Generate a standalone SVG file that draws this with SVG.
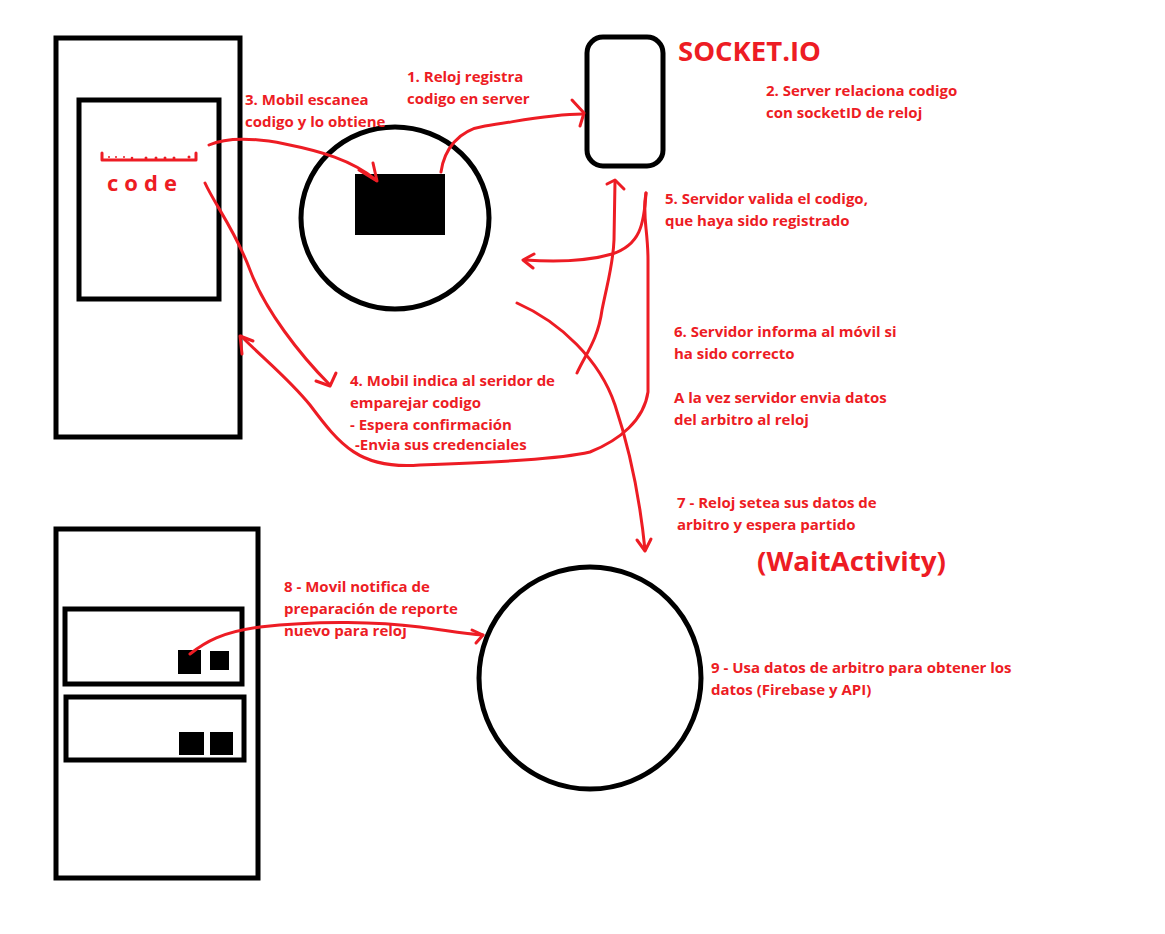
<svg xmlns="http://www.w3.org/2000/svg" width="1165" height="934" viewBox="0 0 1165 934">
<style>
.box{fill:none;stroke:#000;stroke-width:5}
.fill{fill:#000}
.t{font-family:"Open Sans",Lato,sans-serif;font-weight:700;font-size:15px;fill:#ed1c24}
.big{font-family:"Open Sans",Lato,sans-serif;font-weight:700;font-size:27px;fill:#ed1c24}
.c{fill:none;stroke:#ed1c24;stroke-width:3;stroke-linecap:round;stroke-linejoin:round}
</style>
<rect width="1165" height="934" fill="#fff"/>
<g id="phone-top">
<rect class="box" x="56" y="38" width="184" height="399"/>
<rect class="box" x="79" y="100" width="140" height="199" stroke-width="4"/>
<path class="c" d="M102,153 L102,160 L196,160 L196,153" stroke-width="2.5"/>
<g fill="#ed1c24"><circle cx="109" cy="157" r="1"/><circle cx="116" cy="157" r="1"/><circle cx="124" cy="157" r="1"/><circle cx="132" cy="158" r="1.3"/><circle cx="146" cy="158" r="1.5"/><circle cx="156" cy="158" r="1.5"/><circle cx="165" cy="158" r="1.5"/><circle cx="174" cy="158" r="1.5"/><circle cx="189" cy="157" r="1.5"/></g>
<text class="t" x="107" y="191" textLength="70" lengthAdjust="spacing" style="font-size:22px">code</text>
</g>
<g id="watch-top">
<ellipse class="box" cx="395" cy="218" rx="94" ry="91"/>
<rect class="fill" x="355" y="174" width="90" height="61"/>
</g>
<g id="server">
<rect class="box" x="587" y="37" width="76" height="129" rx="16" stroke-width="4"/>
</g>
<g id="phone-bottom">
<rect class="box" x="56" y="529" width="202" height="349"/>
<rect class="box" x="65" y="609" width="177" height="75"/>
<rect class="box" x="66" y="697" width="178" height="63"/>
<rect class="fill" x="178" y="650" width="23" height="24"/>
<rect class="fill" x="210" y="651" width="19" height="19"/>
<rect class="fill" x="179" y="732" width="25" height="23"/>
<rect class="fill" x="210" y="732" width="23" height="23"/>
</g>
<g id="watch-bottom">
<circle class="box" cx="590" cy="678" r="111"/>
</g>
<g id="connectors">
<path class="c" d="M441,172 C444,150 458,130 485,126 C520,121 550,114 583,114"/>
<path class="c" d="M572,100 L584,113 L580,126"/>
<path class="c" d="M209,145 C225,138 250,137 285,144 C320,151 352,160 376,180"/>
<path class="c" d="M359,170 L377,181 L373,163"/>
<path class="c" d="M205,183 C215,205 235,230 250,270 C265,310 300,355 330,385"/>
<path class="c" d="M316,381 L330,386 L336,373"/>
<path class="c" d="M646,193 C642,215 648,230 648,260 L648,392 C644,420 620,440 590,452 C560,459 500,462 420,465 C360,470 340,445 310,405 C290,380 265,360 241,336"/>
<path class="c" d="M242,354 L240,336 L253,341"/>
<path class="c" d="M646,193 C644,225 640,245 612,254 C585,262 555,262 525,260"/>
<path class="c" d="M534,254 L523,260 L533,268"/>
<path class="c" d="M577,373 C585,355 598,340 602,310 C608,280 613,265 614,240 L615,181"/>
<path class="c" d="M607,184 L615,180 L624,189"/>
<path class="c" d="M517,303 C560,322 600,360 615,405 C630,450 640,500 645,550"/>
<path class="c" d="M637,540 L645,551 L651,539"/>
<path class="c" d="M190,654 C205,642 222,632 260,627 C320,620 380,622 420,627 C450,631 465,634 483,635"/>
<path class="c" d="M472,630 L483,635 L476,643"/>
</g>
<g id="labels">
<text class="big" x="678" y="61" textLength="143" lengthAdjust="spacingAndGlyphs">SOCKET.IO</text>
<text class="big" x="757" y="571" textLength="189" lengthAdjust="spacingAndGlyphs">(WaitActivity)</text>
<text class="t" x="407" y="82">1. Reloj registra</text>
<text class="t" x="407" y="104">codigo en server</text>
<text class="t" x="245" y="105">3. Mobil escanea</text>
<text class="t" x="245" y="127">codigo y lo obtiene</text>
<text class="t" x="766" y="96">2. Server relaciona codigo</text>
<text class="t" x="766" y="118">con socketID de reloj</text>
<text class="t" x="665" y="204">5. Servidor valida el codigo,</text>
<text class="t" x="665" y="226">que haya sido registrado</text>
<text class="t" x="674" y="337">6. Servidor informa al móvil si</text>
<text class="t" x="674" y="359">ha sido correcto</text>
<text class="t" x="674" y="403">A la vez servidor envia datos</text>
<text class="t" x="674" y="425">del arbitro al reloj</text>
<text class="t" x="350" y="386">4. Mobil indica al seridor de</text>
<text class="t" x="350" y="408">emparejar codigo</text>
<text class="t" x="350" y="430">- Espera confirmación</text>
<text class="t" x="355" y="450">-Envia sus credenciales</text>
<text class="t" x="677" y="508">7 - Reloj setea sus datos de</text>
<text class="t" x="677" y="530">arbitro y espera partido</text>
<text class="t" x="284" y="592">8 - Movil notifica de</text>
<text class="t" x="284" y="614">preparación de reporte</text>
<text class="t" x="284" y="636">nuevo para reloj</text>
<text class="t" x="711" y="673">9 - Usa datos de arbitro para obtener los</text>
<text class="t" x="711" y="695">datos (Firebase y API)</text>
</g>
</svg>
